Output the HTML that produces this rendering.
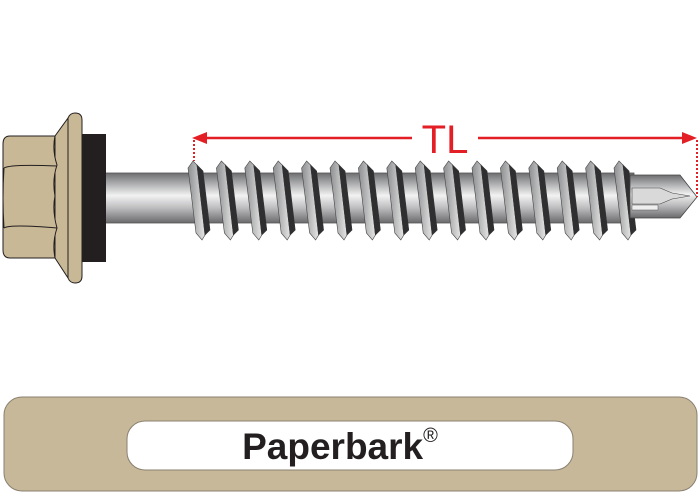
<!DOCTYPE html>
<html><head><style>
html,body{margin:0;padding:0;background:#fff;width:700px;height:496px;overflow:hidden}
</style></head><body>
<svg width="700" height="496" viewBox="0 0 700 496" xmlns="http://www.w3.org/2000/svg">
<defs>
<linearGradient id="sh" x1="0" y1="0" x2="0" y2="1">
<stop offset="0" stop-color="#6e6e70"/>
<stop offset="0.15" stop-color="#9a9b9d"/>
<stop offset="0.45" stop-color="#f2f2f2"/>
<stop offset="0.7" stop-color="#bdbdbf"/>
<stop offset="1" stop-color="#6a6a6c"/>
</linearGradient>
<linearGradient id="lt" x1="0" y1="0" x2="1" y2="0">
<stop offset="0" stop-color="#8d8e90"/><stop offset="1" stop-color="#e6e6e6"/>
</linearGradient>
<g id="th">
<polygon points="-5,168 0,161 4,165 12,235 9,240 3,233" fill="url(#lt)" stroke="#444" stroke-width="0.6"/>
<polygon points="4,165 10,171 17,230 12,235" fill="#2f2f31" stroke="#333" stroke-width="0.6"/>
</g>
</defs>
<rect x="104" y="173" width="530" height="50" fill="url(#sh)" stroke="#555" stroke-width="0.8"/>
<use href="#th" x="193"/><use href="#th" x="221.4"/><use href="#th" x="249.8"/><use href="#th" x="278.2"/>
<use href="#th" x="306.6"/><use href="#th" x="335"/><use href="#th" x="363.4"/><use href="#th" x="391.8"/>
<use href="#th" x="420.2"/><use href="#th" x="448.6"/><use href="#th" x="477"/><use href="#th" x="505.4"/>
<use href="#th" x="533.8"/><use href="#th" x="562.2"/><use href="#th" x="590.6"/><use href="#th" x="619"/>
<polygon points="630,175 680,175 697,197 680,218 630,218" fill="url(#sh)" stroke="#444" stroke-width="0.8"/>
<polygon points="632,188 660,188 672,193 690,196 672,199 660,204 632,204" fill="#d9d9d9" stroke="#444" stroke-width="0.6"/>
<polygon points="632,205 658,205 658,210 632,210" fill="#eee" stroke="#555" stroke-width="0.5"/>
<rect x="82" y="134" width="24" height="128" fill="#231f20"/>
<path d="M55,136 L68,118 Q70,113 75,113 Q82,113 82,120 L82,276 Q82,283 75,283 Q70,283 68,278 L55,258 Z" fill="#c8b896" stroke="#231f20" stroke-width="1"/>
<line x1="68" y1="118" x2="68" y2="278" stroke="#231f20" stroke-width="1"/>
<path d="M10,136 L55,136 Q52,150 57,165 Q52,180 55,196 Q52,210 57,228 Q52,243 55,258 L10,258 Q3,258 3,250 L3,144 Q3,136 10,136 Z" fill="#c8b896" stroke="#231f20" stroke-width="1"/>
<path d="M4,168 Q10,164 57,166" fill="none" stroke="#231f20" stroke-width="1"/>
<path d="M4,228 Q10,224 57,228" fill="none" stroke="#231f20" stroke-width="1"/>
<path d="M4,168 Q2,198 4,228" fill="none" stroke="#231f20" stroke-width="1"/>
<line x1="200" y1="138" x2="412" y2="138" stroke="#e31e24" stroke-width="2.5"/>
<line x1="478" y1="138" x2="688" y2="138" stroke="#e31e24" stroke-width="2.5"/>
<polygon points="192,138 207,132 207,144" fill="#e31e24"/>
<polygon points="697,138 682,132 682,144" fill="#e31e24"/>
<line x1="194" y1="140" x2="194" y2="161" stroke="#e31e24" stroke-width="2" stroke-dasharray="2,2"/>
<line x1="697" y1="140" x2="697" y2="197" stroke="#e31e24" stroke-width="2" stroke-dasharray="2,2"/>
<text x="445" y="153" font-family="Liberation Sans, sans-serif" font-size="40" fill="#e31e24" text-anchor="middle">TL</text>
<rect x="4" y="397" width="693" height="94" rx="18" fill="#c8b89a" stroke="#8a8070" stroke-width="1"/>
<rect x="127" y="421" width="446" height="49" rx="18" fill="#fff" stroke="#8a8070" stroke-width="1"/>
<text x="340" y="459" font-family="Liberation Sans, sans-serif" font-weight="bold" font-size="37" fill="#231f20" text-anchor="middle">Paperbark<tspan font-size="20" dy="-17" font-weight="normal">®</tspan></text>
</svg>
</body></html>
